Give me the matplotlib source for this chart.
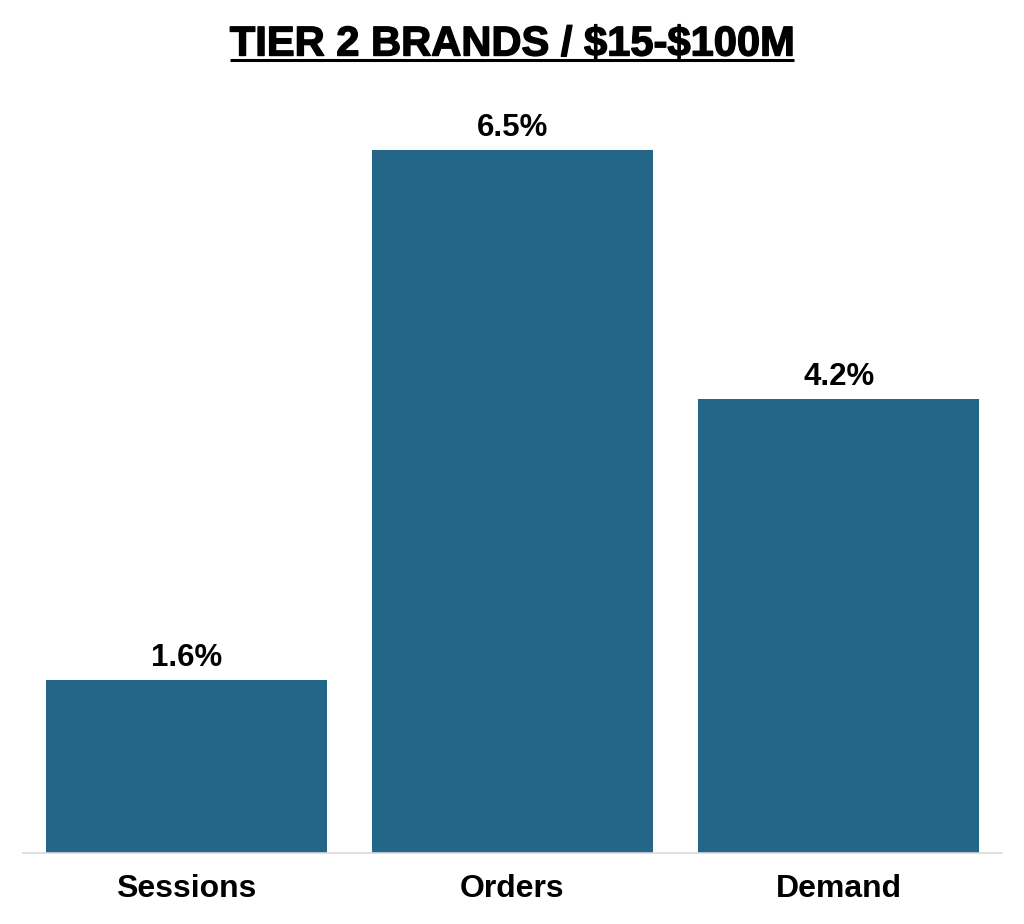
import matplotlib
matplotlib.use("Agg")
import matplotlib.pyplot as plt
from matplotlib.lines import Line2D
import matplotlib.patheffects as pe

categories = ["Sessions", "Orders", "Demand"]
values = [1.6, 6.5, 4.2]
value_labels = ["1.6%", "6.5%", "4.2%"]
title = "TIER 2 BRANDS / \\$15-\\$100M"

FONT = ["Liberation Sans", "Arial", "DejaVu Sans"]
BAR_COLOR = "#236688"

fig = plt.figure(figsize=(10.24, 9.24), dpi=100)
H = 924.0
W = 1024.0
ax_bottom = (H - 853) / H
ax_top = (H - 100) / H
ax = fig.add_axes([23 / W, ax_bottom, (1002 - 23) / W, ax_top - ax_bottom])

x = list(range(len(categories)))
ax.bar(x, values, width=0.862, color=BAR_COLOR, zorder=2)
ymax = 6.5 * (853 - 100) / (853 - 150)
ax.set_ylim(0, ymax)
ax.set_xlim(-0.5, 2.5)

for xi, v, lab in zip(x, values, value_labels):
    ax.annotate(lab, (xi, v), xytext=(0, 14), textcoords="offset pixels",
                ha="center", va="baseline", fontsize=22.5, fontweight="bold",
                family=FONT, color="black")

ax.set_xticks(x)
ax.set_xticklabels(categories, fontsize=23, fontweight="bold", family=FONT)
ax.tick_params(axis="x", length=0, pad=15)
ax.set_yticks([])
for s in ["top", "right", "left"]:
    ax.spines[s].set_visible(False)
ax.spines["bottom"].set_color("#d9d9d9")
ax.spines["bottom"].set_linewidth(1.2)

t = fig.text(0.5, (H - 55.5) / H, title, ha="center", va="baseline", fontsize=30,
             fontweight="bold", family=FONT, color="black",
             path_effects=[pe.withStroke(linewidth=1.0, foreground="black")])
fig.canvas.draw()
bb = t.get_window_extent(renderer=fig.canvas.get_renderer())
x0, x1 = bb.x0 / W, bb.x1 / W
yline = (H - 60) / H
fig.add_artist(Line2D([x0, x1], [yline, yline], transform=fig.transFigure,
                      color="black", linewidth=2.2, solid_capstyle="butt"))

fig.savefig("out.png", dpi=100)
